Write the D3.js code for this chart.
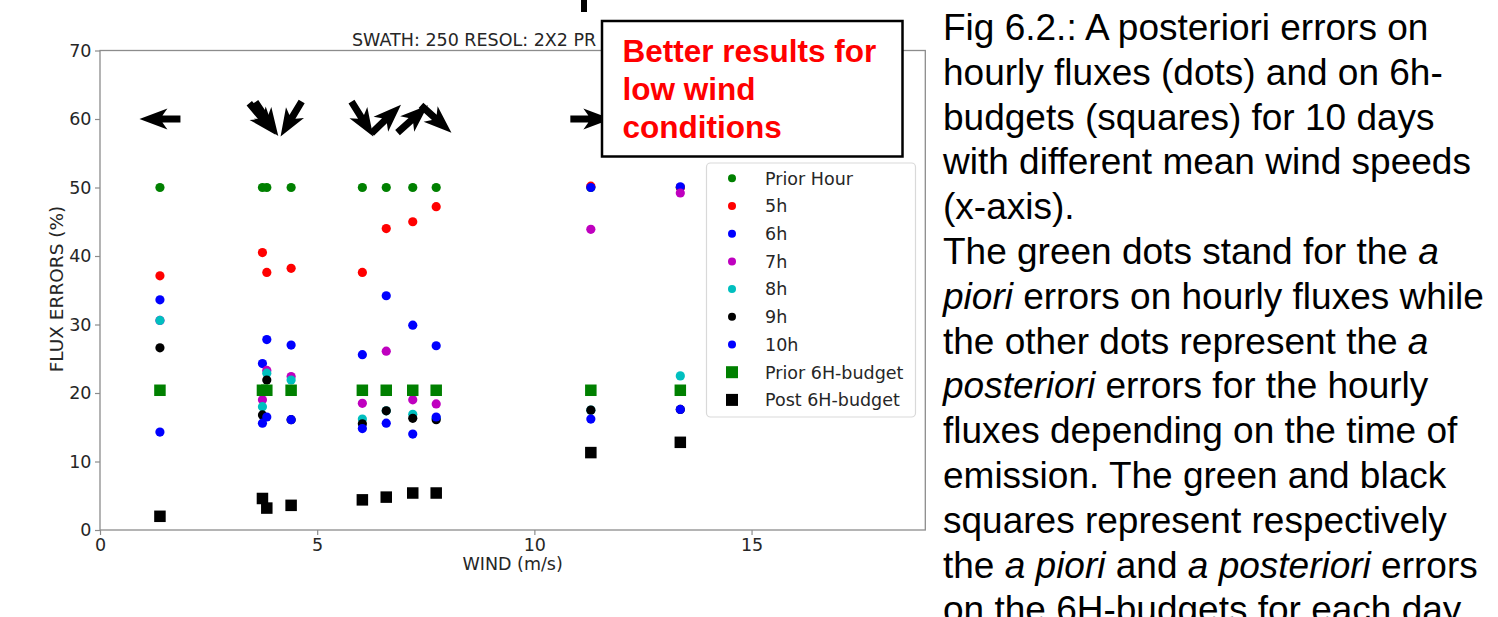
<!DOCTYPE html>
<html>
<head>
<meta charset="utf-8">
<script src="https://cdn.jsdelivr.net/npm/d3@7"></script>
<style>
  body { margin: 0; background: #fff; }
  svg { display: block; }
</style>
</head>
<body>
<script>
// mean wind speed of each of the 10 days (x axis)
var wind = [1.38, 3.74, 3.84, 4.40, 6.04, 6.59, 7.20, 7.74, 11.30, 13.36];
// direction the wind arrow points to (degrees, counter-clockwise from east)
var windDir = [180, -50, -56, -121, -58, 44, 42, -42, 0, 0];

// hourly flux errors (%)
var priorHour = [50, 50, 50, 50, 50, 50, 50, 50, 50, 50];
var err5h  = [37.1, 40.5, 37.6, 38.2, 37.6, 44.0, 45.0, 47.2, 50.2, 50.0];
var err6h  = [33.6, 24.3, 27.8, 27.0, 25.6, 34.2, 29.9, 26.9, 50.0, 50.1];
var err7h  = [30.6, 19.0, 23.3, 22.4, 18.5, 26.1, 19.0, 18.4, 43.9, 49.2];
var err8h  = [30.6, 18.0, 22.9, 21.9, 16.2, 17.4, 16.9, 16.3, 17.5, 22.5];
var err9h  = [26.6, 16.8, 21.9, 16.1, 15.5, 17.4, 16.3, 16.1, 17.5, 17.6];
var err10h = [14.3, 15.6, 16.5, 16.1, 14.8, 15.6, 14.0, 16.5, 16.2, 17.6];
// 6h budget errors (%)
var prior6h = [20.4, 20.4, 20.4, 20.4, 20.4, 20.4, 20.4, 20.4, 20.4, 20.4];
var post6h  = [2.0, 4.6, 3.2, 3.6, 4.4, 4.8, 5.4, 5.4, 11.3, 12.8];

var seriesNames = ["Prior Hour", "5h", "6h", "7h", "8h", "9h", "10h", "Prior 6H-budget", "Post 6H-budget"];
var xTicks = [0, 5, 10, 15];
var yTicks = [0, 10, 20, 30, 40, 50, 60, 70];

var series = [
  {name: seriesNames[0], values: priorHour, color: "#008000", shape: "dot"},
  {name: seriesNames[1], values: err5h,  color: "#ff0000", shape: "dot"},
  {name: seriesNames[2], values: err6h,  color: "#0000ff", shape: "dot"},
  {name: seriesNames[3], values: err7h,  color: "#bf00bf", shape: "dot"},
  {name: seriesNames[4], values: err8h,  color: "#00bfbf", shape: "dot"},
  {name: seriesNames[5], values: err9h,  color: "#000000", shape: "dot"},
  {name: seriesNames[6], values: err10h, color: "#0000ff", shape: "dot"},
  {name: seriesNames[7], values: prior6h, color: "#008000", shape: "square"},
  {name: seriesNames[8], values: post6h,  color: "#000000", shape: "square"}
];

var W = 1498, H = 617;
var plot = {left: 100, right: 925.3, top: 50.5, bottom: 530};
var tickFont = "'DejaVu Sans', sans-serif";

var svg = d3.select("body").append("svg")
    .attr("width", W)
    .attr("height", H);

svg.append("rect").attr("width", W).attr("height", H).attr("fill", "#fff");

var x = d3.scaleLinear().domain([0, 19]).range([plot.left, plot.right]);
var y = d3.scaleLinear().domain([0, 70]).range([plot.bottom, plot.top]);

// fragment of a heading cut off at the top of the slide
svg.append("rect").attr("x", 581).attr("y", 0).attr("width", 6).attr("height", 12).attr("fill", "#000");

// title, partly hidden behind the annotation box in the original
svg.append("clipPath").attr("id", "titleClip")
  .append("rect").attr("x", 0).attr("y", 0).attr("width", 601).attr("height", 60);
svg.append("text")
    .attr("clip-path", "url(#titleClip)")
    .attr("x", 352).attr("y", 45.5)
    .attr("font-family", tickFont).attr("font-size", 17.5)
    .attr("fill", "#262626")
    .text("SWATH: 250 RESOL: 2X2 PR");

// axes
var xAxis = svg.append("g")
    .attr("transform", "translate(0," + plot.bottom + ")")
    .call(d3.axisBottom(x).tickValues(xTicks).tickSize(5).tickPadding(3.5).tickFormat(d3.format("d")));
var yAxis = svg.append("g")
    .attr("transform", "translate(" + plot.left + ",0)")
    .call(d3.axisLeft(y).tickValues(yTicks).tickSize(5).tickPadding(3.5).tickFormat(d3.format("d")));

[xAxis, yAxis].forEach(function(g) {
  g.select(".domain").remove();
  g.selectAll(".tick line").attr("stroke", "#8c8c8c").attr("stroke-width", 1.2);
  g.selectAll(".tick text")
      .attr("font-family", tickFont).attr("font-size", 17.5)
      .attr("fill", "#262626");
});

// frame
svg.append("rect")
    .attr("x", plot.left).attr("y", plot.top)
    .attr("width", plot.right - plot.left).attr("height", plot.bottom - plot.top)
    .attr("fill", "none").attr("stroke", "#8c8c8c").attr("stroke-width", 1.3);

// axis labels
svg.append("text")
    .attr("x", (plot.left + plot.right) / 2).attr("y", 570)
    .attr("text-anchor", "middle")
    .attr("font-family", tickFont).attr("font-size", 17.5).attr("fill", "#262626")
    .text("WIND (m/s)");
svg.append("text")
    .attr("transform", "translate(57,289) rotate(-90)")
    .attr("text-anchor", "middle").attr("dy", "0.35em")
    .attr("font-family", tickFont).attr("font-size", 18.5).attr("fill", "#262626")
    .text("FLUX ERRORS (%)");

// wind arrows at y = 60, centred on each day
var L = 41, sw = 7, hw = 21, hl = 28, hal = 23;
var arrowPts = [
  [-L / 2, -sw / 2], [L / 2 - hal, -sw / 2], [L / 2 - hl, -hw / 2], [L / 2, 0],
  [L / 2 - hl, hw / 2], [L / 2 - hal, sw / 2], [-L / 2, sw / 2]
];
svg.append("g").selectAll("polygon")
    .data(wind)
    .enter().append("polygon")
    .attr("points", arrowPts.map(function(p) { return p.join(","); }).join(" "))
    .attr("transform", function(d, i) {
      return "translate(" + x(d) + "," + y(60) + ") rotate(" + (-windDir[i]) + ")";
    })
    .attr("fill", "#000");

// data marks, drawn in series order so later series sit on top
var sq = 11.5, r = 4.6;
series.forEach(function(s) {
  var g = svg.append("g");
  if (s.shape === "dot") {
    g.selectAll("circle")
        .data(s.values)
        .enter().append("circle")
        .attr("cx", function(d, i) { return x(wind[i]); })
        .attr("cy", function(d) { return y(d); })
        .attr("r", r)
        .attr("fill", s.color);
  } else {
    g.selectAll("rect")
        .data(s.values)
        .enter().append("rect")
        .attr("x", function(d, i) { return x(wind[i]) - sq / 2; })
        .attr("y", function(d) { return y(d) - sq / 2; })
        .attr("width", sq).attr("height", sq)
        .attr("fill", s.color);
  }
});

// legend
var leg = svg.append("g");
leg.append("rect")
    .attr("x", 706.5).attr("y", 163).attr("width", 209).attr("height", 254)
    .attr("rx", 4)
    .attr("fill", "#fff").attr("fill-opacity", 0.8)
    .attr("stroke", "#d9d9d9").attr("stroke-width", 1.2);
var rows = leg.selectAll("g.row")
    .data(series)
    .enter().append("g")
    .attr("class", "row")
    .attr("transform", function(d, i) { return "translate(732," + (178.3 + i * 27.7) + ")"; });
rows.filter(function(d) { return d.shape === "dot"; })
    .append("circle").attr("r", 4).attr("fill", function(d) { return d.color; });
rows.filter(function(d) { return d.shape === "square"; })
    .append("rect").attr("x", -6).attr("y", -6).attr("width", 12).attr("height", 12)
    .attr("fill", function(d) { return d.color; });
rows.append("text")
    .attr("x", 33).attr("dy", "0.36em")
    .attr("font-family", tickFont).attr("font-size", 17.5).attr("fill", "#262626")
    .text(function(d) { return d.name; });

// annotation box
svg.append("rect")
    .attr("x", 602).attr("y", 21).attr("width", 300.5).attr("height", 135.5)
    .attr("fill", "#fff").attr("stroke", "#000").attr("stroke-width", 2.5);
var note = ["Better results for", "low wind", "conditions"];
svg.append("g").selectAll("text")
    .data(note)
    .enter().append("text")
    .attr("x", 622.5)
    .attr("y", function(d, i) { return 61.7 + i * 38.3; })
    .attr("font-family", "'Liberation Sans', Arial, sans-serif")
    .attr("font-weight", "bold").attr("font-size", 31.5)
    .attr("fill", "#ff0000")
    .text(function(d) { return d; });

// caption on the right
var caption = [
  [["Fig 6.2.: A posteriori errors on", false]],
  [["hourly fluxes (dots) and on 6h-", false]],
  [["budgets (squares) for 10 days", false]],
  [["with different mean wind speeds", false]],
  [["(x-axis).", false]],
  [["The green dots stand for the ", false], ["a", true]],
  [["piori", true], [" errors on hourly fluxes while", false]],
  [["the other dots represent the ", false], ["a", true]],
  [["posteriori", true], [" errors for the hourly", false]],
  [["fluxes depending on the time of", false]],
  [["emission. The green and black", false]],
  [["squares represent respectively", false]],
  [["the ", false], ["a piori", true], [" and ", false], ["a posteriori", true], [" errors", false]],
  [["on the 6H-budgets for each day", false]]
];
var cap = svg.append("g")
    .attr("font-family", "'Liberation Sans', Arial, sans-serif")
    .attr("font-size", 37).attr("fill", "#000");
cap.selectAll("text")
    .data(caption)
    .enter().append("text")
    .attr("x", 943)
    .attr("y", function(d, i) { return 40 + i * 44.8; })
    .attr("xml:space", "preserve")
    .style("white-space", "pre")
    .each(function(parts) {
      var t = d3.select(this);
      parts.forEach(function(p) {
        t.append("tspan").attr("font-style", p[1] ? "italic" : "normal").text(p[0]);
      });
    });
</script>
</body>
</html>
